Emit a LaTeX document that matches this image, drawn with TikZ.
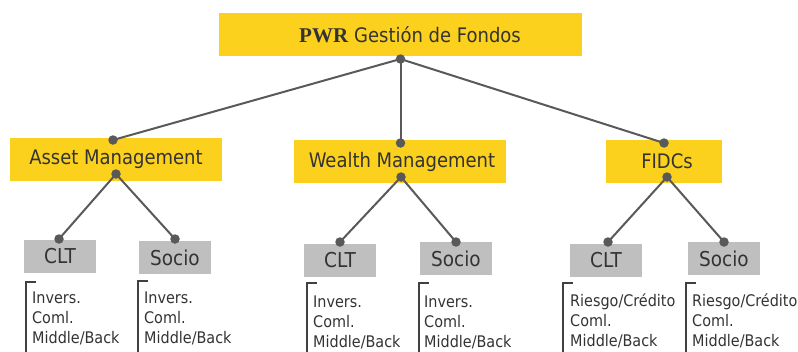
\documentclass[tikz,border=0pt]{standalone}
\usepackage{fontspec}
\setmainfont{DejaVu Sans Condensed}
\newfontfamily\pwrfont{Liberation Serif}
\usetikzlibrary{calc}
\definecolor{ybox}{HTML}{FCD11E}
\definecolor{gbox}{HTML}{BFBFBF}
\definecolor{lnk}{HTML}{595959}
\definecolor{txt}{HTML}{333333}
\definecolor{brk}{HTML}{404040}
\newcommand{\threelines}[3]{\vtop{\baselineskip=20pt\hbox{#1}\hbox{#2}\hbox{#3}}}
\tikzset{
  ybx/.style={fill=ybox, draw=none, inner sep=0pt, minimum height=43pt, text=txt, font=\fontsize{20}{24}\selectfont},
  gbx/.style={fill=gbox, draw=none, inner sep=0pt, minimum width=72pt, minimum height=33pt, text=txt, font=\fontsize{20.5}{24}\selectfont},
  dot/.style={circle, fill=lnk, draw=none, inner sep=0pt, minimum size=9.5pt},
  link/.style={draw=lnk, line width=2pt},
  sub/.style={anchor=base west, inner sep=0pt, text=txt, font=\fontsize{16}{20}\selectfont},
  bracket/.style={draw=brk, line width=1.1pt}
}
\begin{document}
\begin{tikzpicture}[x=1pt, y=-1pt]
\useasboundingbox (0,0) rectangle (798,351);
% boxes
\node[ybx, minimum width=363pt] (top) at (400.5,34.5) {};
\node[text=txt, inner sep=0pt, anchor=base] (title) at (410,42) {\fontsize{21}{24}\selectfont{\pwrfont\bfseries PWR} \fontsize{20}{24}\selectfont Gestión de Fondos};
\node[ybx, minimum width=212pt] (am) at (116,159.5) {Asset Management};
\node[ybx, minimum width=212pt] (wm) at (400,161.5) {\hspace{4pt}Wealth Management};
\node[ybx, minimum width=116pt] (fi) at (664,161.5) {\hspace{6pt}FIDCs};
\node[gbx] (amc) at (60,256.5) {CLT};
\node[gbx] (ams) at (175,257.5) {Socio};
\node[gbx] (wmc) at (340,260.5) {CLT};
\node[gbx] (wms) at (456,258.5) {Socio};
\node[gbx] (fic) at (606,260.5) {CLT};
\node[gbx] (fis) at (724,258.5) {Socio};
% dots
\node[dot] (d0) at (400.5,59) {};
\node[dot] (amt) at (113,140) {};
\node[dot] (amb) at (116,174) {};
\node[dot] (wmt) at (400.5,143) {};
\node[dot] (wmb) at (401,177) {};
\node[dot] (fit) at (664,143) {};
\node[dot] (fib) at (667,177) {};
\node[dot] (amcd) at (59,239) {};
\node[dot] (amsd) at (175,239) {};
\node[dot] (wmcd) at (340,242) {};
\node[dot] (wmsd) at (456,242) {};
\node[dot] (ficd) at (608,242) {};
\node[dot] (fisd) at (724,242) {};
% links
\draw[link] (d0.center) -- (amt.center);
\draw[link] (d0.center) -- (wmt.center);
\draw[link] (d0.center) -- (fit.center);
\draw[link] (amb.center) -- (amcd.center);
\draw[link] (amb.center) -- (amsd.center);
\draw[link] (wmb.center) -- (wmcd.center);
\draw[link] (wmb.center) -- (wmsd.center);
\draw[link] (fib.center) -- (ficd.center);
\draw[link] (fib.center) -- (fisd.center);
% sub-lists
\node[sub] (l1) at (32,303) {\threelines{Invers.}{Coml.}{Middle/Back}};
\node[sub] (l2) at (144,303) {\threelines{Invers.}{Coml.}{Middle/Back}};
\node[sub] (l3) at (313,307) {\threelines{Invers.}{Coml.}{Middle/Back}};
\node[sub] (l4) at (424,307) {\threelines{Invers.}{Coml.}{Middle/Back}};
\node[sub] (l5) at (570,306) {\threelines{Riesgo/Crédito}{Coml.}{Middle/Back}};
\node[sub] (l6) at (692,306) {\threelines{Riesgo/Crédito}{Coml.}{Middle/Back}};
% brackets
\draw[bracket] (36,282) -- (26,282) -- (26,352);
\draw[bracket] (148,281) -- (138,281) -- (138,352);
\draw[bracket] (317,283) -- (307,283) -- (307,352);
\draw[bracket] (429,283) -- (419,283) -- (419,352);
\draw[bracket] (573,283) -- (563,283) -- (563,352);
\draw[bracket] (696,283) -- (686,283) -- (686,352);
\end{tikzpicture}
\end{document}
